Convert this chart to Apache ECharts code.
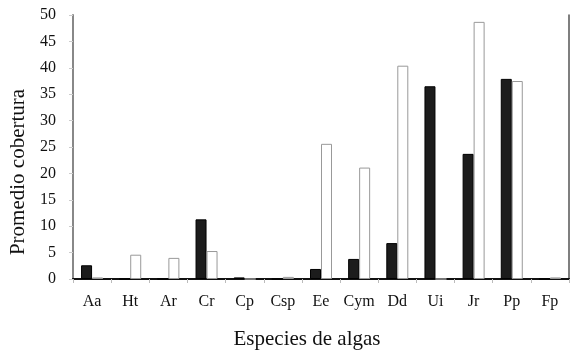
<!DOCTYPE html>
<html>
<head>
<meta charset="utf-8">
<script src="https://cdn.jsdelivr.net/npm/echarts@6/dist/echarts.min.js"></script>
<style>
  html, body { margin: 0; padding: 0; background: #fff; }
  #chart { width: 580px; height: 356px; }
</style>
</head>
<body>
<div id="chart"></div>
<script>
// datos
const categorias = ['Aa', 'Ht', 'Ar', 'Cr', 'Cp', 'Csp', 'Ee', 'Cym', 'Dd', 'Ui', 'Jr', 'Pp', 'Fp'];
const serieNegra = [2.6, 0, 0, 11.3, 0.3, 0, 1.9, 3.8, 6.8, 36.5, 23.7, 37.9, 0];
const serieBlanca = [0.3, 4.6, 4.0, 5.3, 0, 0.4, 25.6, 21.1, 40.4, 0, 48.7, 37.5, 0.3];
const ticksY = [0, 50, 5];

const fuente = 'Liberation Serif';
const myChart = echarts.init(document.getElementById('chart'));

const option = {
  animation: false,
  textStyle: { fontFamily: fuente },
  grid: { left: 69, right: 11, top: 15, bottom: 77 },
  xAxis: [
    {
      type: 'category',
      data: categorias,
      name: 'Especies de algas',
      nameLocation: 'middle',
      nameGap: 50,
      // el titulo esta un poco a la izquierda del centro
      nameTextStyle: { fontFamily: fuente, fontSize: 21, color: '#111', padding: [0, 28, 0, 0] },
      axisLine: { lineStyle: { color: '#111', width: 1.5 } },
      axisTick: { show: true, interval: 0, length: 4, lineStyle: { color: '#bbb' } },
      axisLabel: { interval: 0, fontFamily: fuente, fontSize: 16, color: '#111', margin: 15 }
    },
    {
      type: 'category',
      position: 'top',
      data: categorias,
      axisLine: { lineStyle: { color: '#111', width: 2 } },
      axisTick: { show: false },
      axisLabel: { show: false }
    }
  ],
  yAxis: [
    {
      type: 'value',
      min: ticksY[0],
      max: ticksY[1],
      interval: ticksY[2],
      name: 'Promedio cobertura',
      nameLocation: 'middle',
      nameGap: 44,
      // desplazado hacia abajo
      nameTextStyle: { fontFamily: fuente, fontSize: 21, color: '#111', padding: [0, 50, 0, 0] },
      axisLine: { show: true, lineStyle: { color: '#888', width: 2 } },
      axisTick: { show: true, length: 4, lineStyle: { color: '#ccc' } },
      axisLabel: { fontFamily: fuente, fontSize: 16, color: '#111', margin: 17 },
      splitLine: { show: false }
    },
    {
      type: 'value',
      position: 'right',
      min: ticksY[0],
      max: ticksY[1],
      axisLine: { show: true, lineStyle: { color: '#555', width: 1.5 } },
      axisTick: { show: false },
      axisLabel: { show: false },
      splitLine: { show: false }
    }
  ],
  series: [
    {
      type: 'bar',
      data: serieNegra,
      barWidth: 11,
      barGap: '0%',
      itemStyle: { color: '#1c1c1c', borderColor: '#000', borderWidth: 1 }
    },
    {
      type: 'bar',
      data: serieBlanca,
      barWidth: 11,
      barGap: '0%',
      itemStyle: { color: '#fff', borderColor: '#999', borderWidth: 1 }
    }
  ]
};

myChart.setOption(option);
</script>
</body>
</html>
